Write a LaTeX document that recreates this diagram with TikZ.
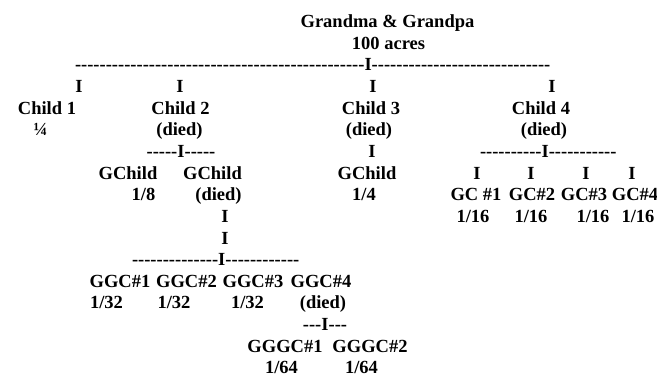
\documentclass[tikz,border=0pt]{standalone}
\usepackage{fontspec}
\setmainfont{Liberation Serif}
\newcommand\dashrun[1]{\foreach \k in {1,...,#1}{\mbox{-}}}
\begin{document}
\begin{tikzpicture}[x=1pt,y=-1pt,
  txt/.style={inner sep=0pt,outer sep=0pt,anchor=base,font=\fontsize{18.5}{22}\selectfont\bfseries},
  lft/.style={txt,anchor=base west}]
\useasboundingbox (0,0) rectangle (657,378);
\def\R#1{\fpeval{27.5+21.65*#1}}
% row 0-1
\node[txt] (gp) at (387.5,{\R{0}}) {Grandma \& Grandpa};
\node[txt] (acres) at (388.5,{\R{1}}) {100 acres};
% row 2
\node[lft] (bar1) at (75,{\R{2}}) {\dashrun{47}I\dashrun{29}};
% row 3
\node[txt] (i1) at (79,{\R{3}}) {I};
\node[txt] (i2) at (180,{\R{3}}) {I};
\node[txt] (i3) at (373,{\R{3}}) {I};
\node[txt] (i4) at (552,{\R{3}}) {I};
% row 4
\node[txt] (c1) at (47,{\R{4}}) {Child 1};
\node[txt] (c2) at (180.5,{\R{4}}) {Child 2};
\node[txt] (c3) at (371,{\R{4}}) {Child 3};
\node[txt] (c4) at (541,{\R{4}}) {Child 4};
% row 5
\node[txt] (c1s) at (40.5,{\R{5}}) {¼};
\node[txt] (c2d) at (179.5,{\R{5}}) {(died)};
\node[txt] (c3d) at (369,{\R{5}}) {(died)};
\node[txt] (c4d) at (544,{\R{5}}) {(died)};
% row 6
\node[txt] (bar2) at (181,{\R{6}}) {\dashrun{5}I\dashrun{5}};
\node[txt] (i5) at (372,{\R{6}}) {I};
\node[lft] (bar4) at (480,{\R{6}}) {\dashrun{10}I\dashrun{11}};
% row 7
\node[txt] (g1) at (128,{\R{7}}) {GChild};
\node[txt] (g2) at (212.5,{\R{7}}) {GChild};
\node[txt] (g3) at (367,{\R{7}}) {GChild};
\node[txt] (i6) at (477,{\R{7}}) {I};
\node[txt] (i7) at (531,{\R{7}}) {I};
\node[txt] (i8) at (586,{\R{7}}) {I};
\node[txt] (i9) at (632,{\R{7}}) {I};
% row 8
\node[txt] (g1s) at (143.5,{\R{8}}) {1/8};
\node[txt] (g2d) at (218.5,{\R{8}}) {(died)};
\node[txt] (g3s) at (364,{\R{8}}) {1/4};
\node[txt] (gc1) at (476,{\R{8}}) {GC \#1};
\node[txt] (gc2) at (532,{\R{8}}) {GC\#2};
\node[txt] (gc3) at (584,{\R{8}}) {GC\#3};
\node[txt] (gc4) at (635,{\R{8}}) {GC\#4};
% row 9
\node[txt] (i10) at (225,{\R{9}}) {I};
\node[txt] (gc1s) at (473,{\R{9}}) {1/16};
\node[txt] (gc2s) at (531,{\R{9}}) {1/16};
\node[txt] (gc3s) at (593,{\R{9}}) {1/16};
\node[txt] (gc4s) at (638,{\R{9}}) {1/16};
% row 10
\node[txt] (i11) at (225,{\R{10}}) {I};
% row 11
\node[lft] (bar3) at (132,{\R{11}}) {\dashrun{14}I\dashrun{12}};
% row 12
\node[txt] (ggc1) at (120,{\R{12}}) {GGC\#1};
\node[txt] (ggc2) at (186.5,{\R{12}}) {GGC\#2};
\node[txt] (ggc3) at (253,{\R{12}}) {GGC\#3};
\node[txt] (ggc4) at (321,{\R{12}}) {GGC\#4};
% row 13
\node[txt] (ggc1s) at (106.5,{\R{13}}) {1/32};
\node[txt] (ggc2s) at (174,{\R{13}}) {1/32};
\node[txt] (ggc3s) at (247.5,{\R{13}}) {1/32};
\node[txt] (ggc4d) at (323,{\R{13}}) {(died)};
% row 14
\node[txt] (bar5) at (325,{\R{14}}) {\dashrun{3}I\dashrun{3}};
% row 15
\node[txt] (gggc1) at (285,{\R{15}}) {GGGC\#1};
\node[txt] (gggc2) at (370,{\R{15}}) {GGGC\#2};
% row 16
\node[txt] (gggc1s) at (281.5,{\R{16}}) {1/64};
\node[txt] (gggc2s) at (361.5,{\R{16}}) {1/64};
\end{tikzpicture}
\end{document}
